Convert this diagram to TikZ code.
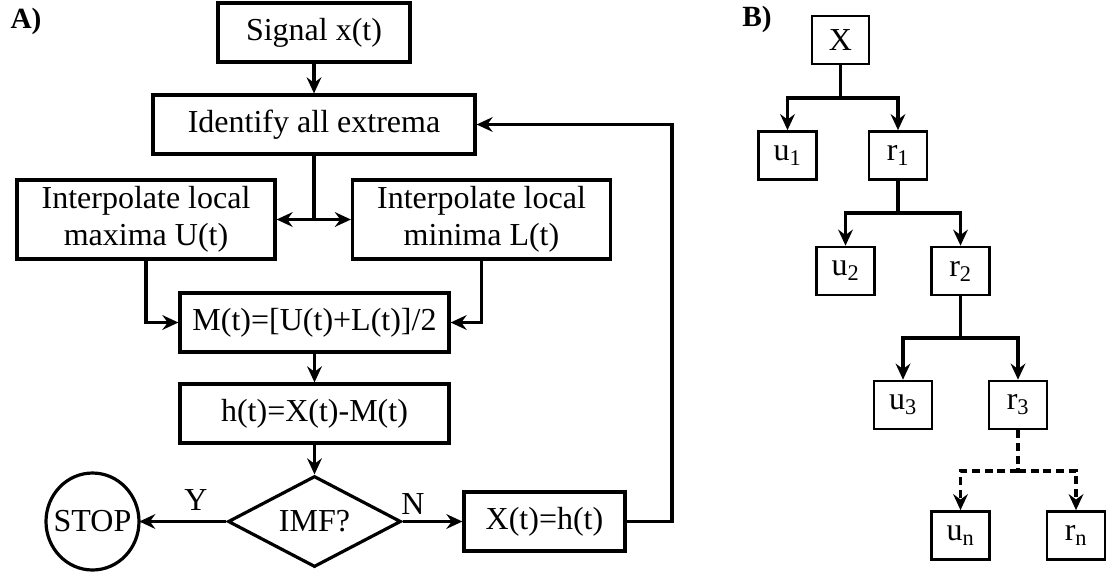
\documentclass[tikz,border=0pt]{standalone}
\usepackage{fontspec}
\setmainfont{Liberation Serif}
\usetikzlibrary{arrows.meta,shapes.geometric}

\begin{document}
\begin{tikzpicture}[x=0.75pt,y=-0.75pt,
  font=\fontsize{24}{28}\selectfont,
  flowbox/.style={draw,line width=2.4pt,inner sep=0pt,align=center,
    minimum height=44.25pt},
  leaf/.style={draw,line width=2pt,inner sep=0pt,
    minimum width=43.5pt,minimum height=36pt},
  link/.style={line width=2.4pt},
  arr/.style={link,-{Stealth[length=12pt,width=11pt,inset=4pt]}},
  panel/.style={font=\fontsize{22}{26}\selectfont\bfseries}]

\useasboundingbox (0,0) rectangle (1113,576);

% ---------- panel A: sifting loop ----------
\node[panel] (la) at (26,21) {A)};

\node[flowbox,minimum width=144pt]    (sig)   at (314,32.5)   {Signal x(t)};
\node[flowbox,minimum width=241.5pt]  (ident) at (314,124.5)  {Identify all extrema};
\node[flowbox,minimum width=193.5pt,minimum height=59.25pt] (maxb) at (146,219.5)
  {Interpolate local\\maxima U(t)};
\node[flowbox,minimum width=193.5pt,minimum height=59.25pt] (minb) at (481.5,219.5)
  {Interpolate local\\minima L(t)};
\node[flowbox,minimum width=201.75pt] (mbox)  at (314.5,322.5) {M(t)=[U(t)+L(t)]/2};
\node[flowbox,minimum width=201.75pt] (hbox)  at (314.5,413.5) {h(t)=X(t)-M(t)};
\node[draw,diamond,line width=2.4pt,inner sep=0pt,aspect=1.9,
      minimum width=129.75pt,minimum height=68.25pt] (imf) at (314.5,521.5) {IMF?};
% terminal: text node sized to the oval, oval drawn round it
\node[inner sep=0pt,minimum width=69.75pt,minimum height=72.75pt] (stop) at (92.5,521.5) {STOP};
\draw[line width=2.4pt] (stop.center) ellipse [x radius=46.5, y radius=48.5];
\node[flowbox,minimum width=120.75pt] (xh)    at (544.5,521.5) {X(t)=h(t)};

\node (ylab) at (196,500) {Y};
\node (nlab) at (413,504) {N};

\coordinate (split) at (314,219.5);
\coordinate (back)  at (672,521.5);

\draw[arr]  (sig) -- (ident);
\draw[link] (ident) -- (split);
\draw[arr]  (split) -- (maxb);
\draw[arr]  (split) -- (minb);
\draw[arr]  (maxb) |- (mbox);
\draw[arr]  (minb) |- (mbox);
\draw[arr]  (mbox) -- (hbox);
\draw[arr]  (hbox) -- (imf);
\draw[arr]  (imf) -- (stop);
\draw[arr]  (imf) -- (xh);
\draw[arr]  (xh) -- (back) |- (ident);

% ---------- panel B: decomposition tree ----------
\node[panel] (lb) at (757,19) {B)};

\node[leaf,minimum width=42.75pt] (X)  at (840.5,40)  {X};
\node[leaf] (u1) at (787.5,155.5) {u\textsubscript{1}};
\node[leaf] (r1) at (898,155.5)   {r\textsubscript{1}};
\node[leaf] (u2) at (845.5,271)   {u\textsubscript{2}};
\node[leaf] (r2) at (960.5,271)   {r\textsubscript{2}};
\node[leaf] (u3) at (903,405)     {u\textsubscript{3}};
\node[leaf] (r3) at (1018,405)    {r\textsubscript{3}};
\node[leaf] (un) at (960.5,535.5) {u\textsubscript{n}};
\node[leaf] (rn) at (1076,535.5)  {r\textsubscript{n}};

\coordinate (b0) at (840.5,98);
\coordinate (b1) at (898,213);
\coordinate (b2) at (960.5,338);
\coordinate (b3) at (1018,471);

\draw[link] (X) -- (b0);
\draw[arr]  (b0) -| (u1);
\draw[arr]  (b0) -| (r1);
\draw[link] (r1) -- (b1);
\draw[arr]  (b1) -| (u2);
\draw[arr]  (b1) -| (r2);
\draw[link] (r2) -- (b2);
\draw[arr]  (b2) -| (u3);
\draw[arr]  (b2) -| (r3);
\draw[link,dash pattern=on 6pt off 3.5pt] (r3) -- (b3);
\draw[arr,dash pattern=on 6pt off 3.5pt]  (b3) -| (un);
\draw[arr,dash pattern=on 6pt off 3.5pt]  (b3) -| (rn);
\end{tikzpicture}
\end{document}
